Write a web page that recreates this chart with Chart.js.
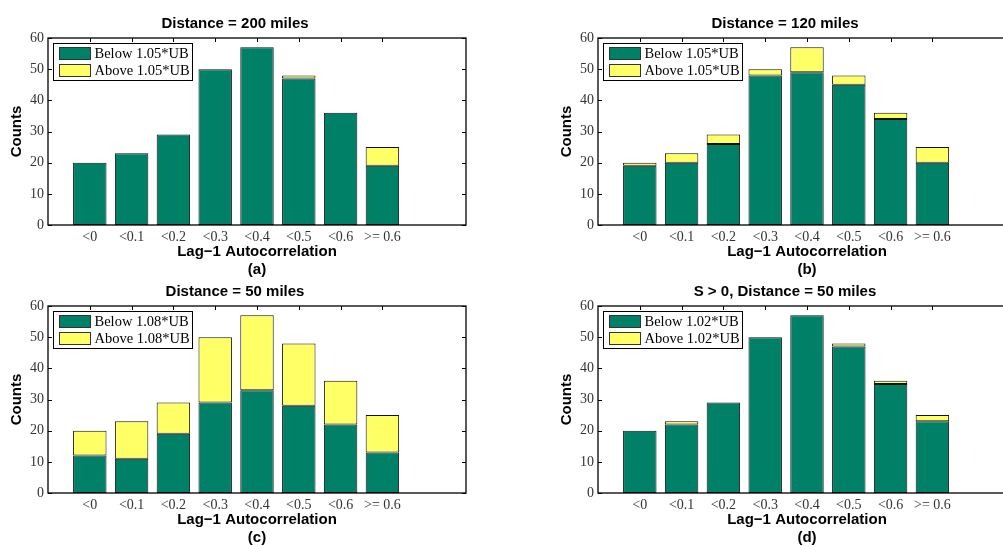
<!DOCTYPE html>
<html>
<head>
<meta charset="utf-8">
<script src="https://cdn.jsdelivr.net/npm/chart.js@4.4.0/dist/chart.umd.min.js"></script>
<style>
  html, body { margin: 0; padding: 0; background: #fff; overflow: hidden; }
  #wrap { position: relative; width: 1003px; height: 546px; overflow: hidden; }
  canvas { position: absolute; }
</style>
</head>
<body>
<div id="wrap">
  <canvas id="chartA" width="470" height="279" style="left:0px;top:0px"></canvas>
  <canvas id="chartB" width="470" height="279" style="left:550px;top:0px"></canvas>
  <canvas id="chartC" width="470" height="279" style="left:0px;top:268px"></canvas>
  <canvas id="chartD" width="470" height="279" style="left:550px;top:268px"></canvas>
</div>
<script>
// autocorrelation bins (x positions 1..8, axis runs 0..10)
const categories = ['<0', '<0.1', '<0.2', '<0.3', '<0.4', '<0.5', '<0.6', '>= 0.6'];

// counts per bin, split at the UB threshold
const below200 = [20, 23, 29, 50, 57, 47, 36, 19];
const above200 = [0, 0, 0, 0, 0, 1, 0, 6];
const below120 = [19, 20, 26, 48, 49, 45, 34, 20];
const above120 = [1, 3, 3, 2, 8, 3, 2, 5];
const below50 = [12, 11, 19, 29, 33, 28, 22, 13];
const above50 = [8, 12, 10, 21, 24, 20, 14, 12];
const belowS50 = [20, 22, 29, 50, 57, 47, 35, 23];
const aboveS50 = [0, 1, 0, 0, 0, 1, 1, 2];

const yTicks = [0, 10, 20, 30, 40, 50, 60];

const GREEN = '#008066';
const YELLOW = '#ffff66';
const SERIF = 'Liberation Serif';
const SANS = 'Liberation Sans';

// inward ticks, axis box and the boxed legend in the upper-left corner
const framePlugin = {
  id: 'frame',
  beforeDatasetsDraw(chart) {
    const {ctx, chartArea: a, scales: {x, y}} = chart;
    ctx.save();
    ctx.strokeStyle = '#000';
    ctx.lineWidth = 1;
    ctx.beginPath();
    yTicks.forEach(v => {
      const py = Math.round(y.getPixelForValue(v)) + 0.5;
      ctx.moveTo(a.left, py); ctx.lineTo(a.left + 4, py);
      ctx.moveTo(a.right, py); ctx.lineTo(a.right - 4, py);
    });
    categories.forEach((c, i) => {
      const px = Math.round(x.getPixelForValue(i + 1)) + 0.5;
      ctx.moveTo(px, a.top); ctx.lineTo(px, a.top + 4);
      ctx.moveTo(px, a.bottom); ctx.lineTo(px, a.bottom - 4);
    });
    ctx.stroke();
    ctx.restore();
  },
  afterDatasetsDraw(chart) {
    const {ctx, chartArea: a} = chart;
    ctx.save();
    ctx.strokeStyle = '#000';
    ctx.lineWidth = 1.3;
    ctx.strokeRect(a.left, a.top, a.right - a.left, a.bottom - a.top);

    // legend
    const lx = Math.round(a.left) + 5.5, ly = Math.round(a.top) + 5.5;
    ctx.fillStyle = '#fff';
    ctx.fillRect(lx, ly, 139, 37);
    ctx.lineWidth = 1;
    ctx.strokeRect(lx, ly, 139, 37);
    ctx.font = '14.5px "' + SERIF + '"';
    ctx.textBaseline = 'middle';
    chart.data.datasets.forEach((ds, i) => {
      const sy = ly + 4 + i * 17;
      ctx.fillStyle = ds.backgroundColor;
      ctx.fillRect(lx + 6, sy, 31, 12);
      ctx.strokeStyle = '#333';
      ctx.strokeRect(lx + 6, sy, 31, 12);
      ctx.fillStyle = '#000';
      ctx.fillText(ds.label, lx + 41, sy + 7);
    });
    ctx.restore();
  }
};

function makeChart(id, title, tag, ub, below, above) {
  const toPoints = arr => arr.map((v, i) => ({x: i + 1, y: v}));
  return new Chart(document.getElementById(id), {
    type: 'bar',
    data: {
      datasets: [
        {
          label: 'Below ' + ub + '*UB',
          data: toPoints(below),
          backgroundColor: GREEN,
          borderColor: '#111',
          borderWidth: 1,
          borderSkipped: false,
          barPercentage: 0.8,
          categoryPercentage: 1.0
        },
        {
          label: 'Above ' + ub + '*UB',
          data: toPoints(above),
          backgroundColor: YELLOW,
          borderColor: '#111',
          borderWidth: 1,
          borderSkipped: false,
          barPercentage: 0.8,
          categoryPercentage: 1.0
        }
      ]
    },
    options: {
      responsive: false,
      animation: false,
      devicePixelRatio: 1,
      layout: {padding: 0},
      plugins: {
        legend: {display: false},
        tooltip: {enabled: false},
        title: {
          display: true,
          text: title,
          color: '#000',
          font: {family: SANS, size: 15, weight: 'bold'},
          padding: {top: 15, bottom: 5}
        }
      },
      scales: {
        x: {
          type: 'linear',
          min: 0,
          max: 10,
          offset: false,
          stacked: true,
          grid: {display: false, drawTicks: false},
          border: {display: false},
          ticks: {
            stepSize: 1,
            autoSkip: false,
            maxRotation: 0,
            padding: 4,
            color: '#333',
            font: {family: SERIF, size: 14},
            callback: v => categories[v - 1] ?? ''
          },
          title: {
            display: true,
            text: ['Lag\u22121 Autocorrelation', tag],
            color: '#000',
            font: {family: SANS, size: 15, weight: 'bold'},
            padding: 0
          },
          afterFit: s => { s.height = 54; }
        },
        y: {
          min: 0,
          max: 60,
          stacked: true,
          grid: {display: false, drawTicks: false},
          border: {display: false},
          ticks: {
            stepSize: 10,
            padding: 4,
            color: '#333',
            font: {family: SERIF, size: 14}
          },
          title: {
            display: true,
            text: 'Counts',
            color: '#000',
            font: {family: SANS, size: 15, weight: 'bold'},
            padding: {top: 8, bottom: 0}
          },
          afterFit: s => { s.width = 48; }
        }
      }
    },
    plugins: [framePlugin]
  });
}

makeChart('chartA', 'Distance = 200 miles', '(a)', '1.05', below200, above200);
makeChart('chartB', 'Distance = 120 miles', '(b)', '1.05', below120, above120);
makeChart('chartC', 'Distance = 50 miles', '(c)', '1.08', below50, above50);
makeChart('chartD', 'S > 0, Distance = 50 miles', '(d)', '1.02', belowS50, aboveS50);
</script>
</body>
</html>
